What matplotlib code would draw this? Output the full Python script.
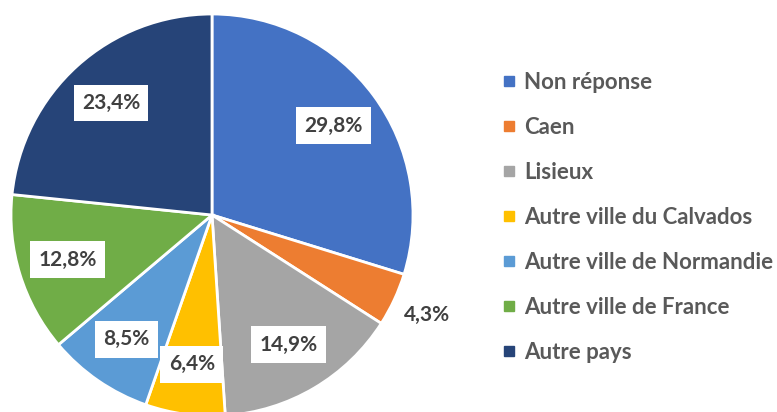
import numpy as np
import matplotlib.pyplot as plt
from matplotlib.lines import Line2D

categories = ["Non réponse", "Caen", "Lisieux", "Autre ville du Calvados",
              "Autre ville de Normandie", "Autre ville de France", "Autre pays"]
values = [29.8, 4.3, 14.9, 6.4, 8.5, 12.8, 23.4]
colors = ["#4472C4", "#ED7D31", "#A5A5A5", "#FFC000", "#5B9BD5", "#70AD47", "#264478"]

plt.rcParams['font.family'] = ['Lato', 'DejaVu Sans']

W, H = 777, 412
fig = plt.figure(figsize=(W / 100, H / 100), dpi=100)
# pie centre ~ (212, 215) px from top-left, radius ~201 px
r = 201
cx, cy = 212, 215
ax = fig.add_axes([(cx - r) / W, (H - cy - r) / H, 2 * r / W, 2 * r / H])

wedges, _ = ax.pie(values, colors=colors, startangle=90, counterclock=False,
                   radius=1, wedgeprops=dict(edgecolor="white", linewidth=2))
ax.set_xlim(-1, 1)
ax.set_ylim(-1, 1)
ax.set_aspect("equal")
ax.axis("off")

total = sum(values)
start = 90.0
for v in values:
    ang = np.deg2rad(start - v / total * 360 / 2)
    start -= v / total * 360
    txt = f"{v:.1f}".replace(".", ",") + "%"
    if v < 5:
        d = 1.18
        box = None
    else:
        d = 0.75
        box = dict(boxstyle="square,pad=0.4", facecolor="white", edgecolor="none")
    ax.text(d * np.cos(ang), d * np.sin(ang), txt, ha="center", va="center",
            fontsize=15, fontweight="bold", color="#404040", bbox=box)

handles = [Line2D([], [], marker="s", linestyle="none", markersize=6.5,
                  markerfacecolor=c, markeredgecolor=c) for c in colors]
fig.legend(handles, categories, loc="upper left",
           bbox_to_anchor=(503 / W, 1 - 72 / H), frameon=False,
           prop=dict(size=16, weight="bold"), labelcolor="#595959",
           handlelength=0.5, handletextpad=0.45, labelspacing=1.08,
           borderaxespad=0, borderpad=0)

fig.savefig("out.png", dpi=100)
